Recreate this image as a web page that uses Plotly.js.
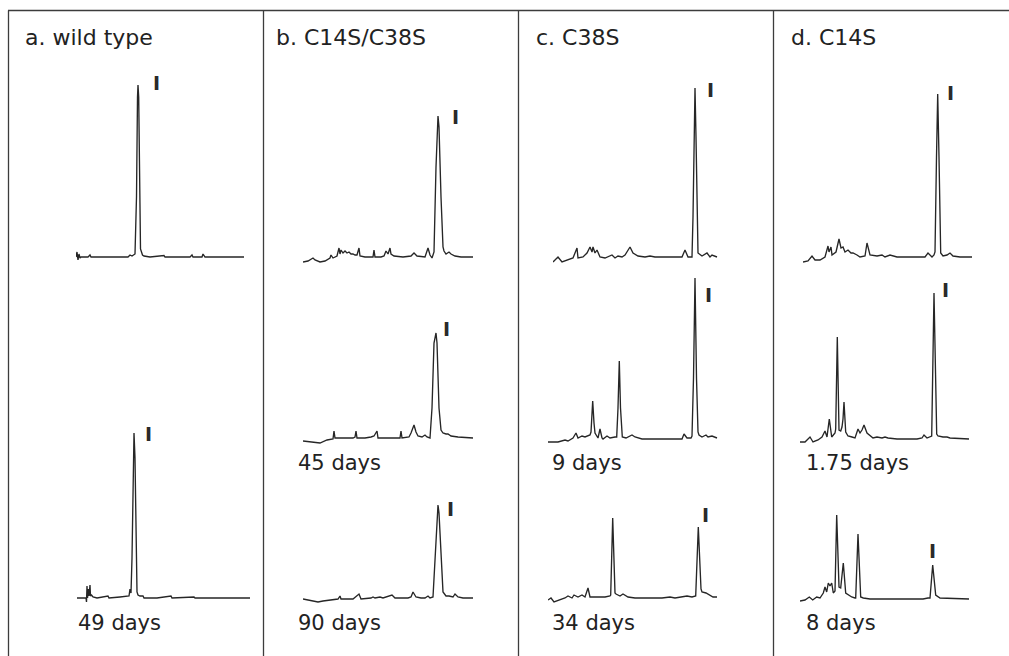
<!DOCTYPE html>
<html>
<head>
<meta charset="utf-8">
<script src="https://cdn.plot.ly/plotly-3.0.1.min.js"></script>
<style>html,body{margin:0;padding:0;background:#fff}</style>
</head>
<body>
<div id="chart" style="width:1009px;height:656px"></div>
<script>
// ---- Panel titles and sample labels ----
const panelTitles = ["a. wild type", "b. C14S/C38S", "c. C38S", "d. C14S"];
const sampleLabels = ["49 days", "45 days", "90 days", "9 days", "34 days", "1.75 days", "8 days"];
const peakName = "I";

// ---- Chromatogram traces: retention (arbitrary units) and signal (arbitrary units) ----
// a. wild type, top
const a1_t = [0,1,2,3,4,5,12,14,15,52,54,56,59,60.5,61.5,62,62.7,63.5,64.5,65.5,66.5,68,74,88,89,114,116,117,126,127,129,168];
const a1_y = [0,5,-3,3,-1,0,0,2,0,0,2,1,3,60,160,172,160,60,8,5,2,1,0,1.5,0,0,2,0,0,3,0,0];
// a. wild type, 49 days
const a2_t = [0,5,9,9.5,10,10.5,11.5,12,13,13.5,14.5,16,20,31,32,43,52,53,54,55,56,57,58,59,60,61,63,66,67,80,94,95,117,118,173];
const a2_y = [0,0,0,-4,12,0,9,2,13,2,3,1,0,2,0,1,2,9,5,40,140,165,140,40,6,3,2,2,0,0,2,0,1,0,0];
// b. C14S/C38S, top
const b1_t = [0,5,10,12,17,22,27,28,30,34,36,37,38,40,42,44,46,48,50,52,54,56,57,62,70,71,72,78,81,83,85,87,88,91,100,108,111,114,122,125,127,129,131,133,135,136,138,140,141,143,146,148,152,158,170];
const b1_y = [-5,-4,-1,-3,-5,-4,-1,2,-1,1,9,3,7,4,6,4,5,3,3,2,2,9,1,0,0,7,0,0,1,6,3,9,3,1,0,1,4,1,0,9,2,-1,5,90,141,130,60,10,6,3,5,3,1,0,0];
// b. C14S/C38S, 45 days
const b2_t = [0,8,17,24,28,30,31,32,40,50,52,53,54,62,68,71,74,75,85,97,98,99,106,108,111,113,115,119,122,124,127,129,131,133,134,136,138,140,143,145,148,155,170];
const b2_y = [-3,-4,-5,-2,-1,-1,7,0,0,0,1,7,0,0,1,2,7,0,0,0,7,0,1,5,13,6,2,1,3,1,0,30,95,105,95,30,8,5,4,4,2,1,0];
// b. C14S/C38S, 90 days
const b3_t = [0,5,10,15,20,30,35,37,38,50,56,58,68,70,72,77,80,89,92,105,108,110,113,118,122,125,127,130,132,134,135,136,138,140,143,146,150,152,155,160,170];
const b3_y = [-1,-2,-3,-4,-3,-2,-1,2,-1,-1,4,-1,0,1,0,1,0,3,0,0,1,6,1,0,0,2,0,1,40,85,93,85,40,6,2,2,1,4,1,0,0];
// c. C38S, top
const c1_t = [0,5,9,14,20,24,25,30,34,37,39,40,42,44,47,52,59,62,65,69,72,77,80,85,92,97,102,129,132,135,139,140,141,142,143,144,145,149,154,157,159,164];
const c1_y = [-5,0,-5,-3,-1,9,-1,0,4,10,5,10,4,7,0,-1,2,-1,1,0,2,10,4,1,0,1,0,0,7,0,0,40,130,169,120,30,4,1,4,0,2,0];
// c. C38S, 9 days
const c2_t = [0,10,17,20,25,28,30,34,37,40,42,43,44.7,46,47,50,52,54,55,59,62,67,68.7,70,71.3,72.5,74.3,78,84,87,94,107,134,136,139,143,144,145.5,147,148.5,150,151,154,158,160,164,169];
const c2_y = [-4,-4,-2,-3,0,5,0,2,1,2,3,6,37,15,5,0,9,0,-1,2,0,1,1,30,77,30,1,0,3,1,-1,-1,-1,4,0,0,2,60,160,60,6,3,1,3,1,2,0];
// c. C38S, 34 days
const c3_t = [0,3,6,12,17,20,24,26,30,34,37,40,42,45,50,57,62,62.7,64.7,67,68,72,75,80,87,100,114,122,127,139,144,147.7,150.3,153,154,158,162,165,169];
const c3_y = [-3,-1,-5,-3,-1,1,-1,2,0,2,0,9,0,0,0,0,1,2,79,4,3,1,3,0,-1,-1,-1,0,-1,1,0,1,70,8,5,4,2,0,0];
// d. C14S, top
const d1_t = [0,5,9,12,17,22,25,26,28,29,33,36,38,40,42,45,48,50,54,57,62,64,67,74,79,82,87,90,94,107,122,125,129,131,132,133.5,134.7,136,137.7,140,144,147,150,157,169];
const d1_y = [-5,-4,1,-3,-3,0,11,5,10,2,5,18,9,10,5,7,4,4,2,0,1,14,2,1,2,0,2,1,0,0,0,4,0,2,5,100,163,100,4,1,2,4,1,0,0];
// d. C14S, 1.75 days
const d2_t = [0,5,10,13,18,22,25,27,29.3,31.7,35,35.7,37.3,39,40.7,42,43,44,45.7,48,52,55,58,60,62,64,67,70,73,77,82,85,88,97,117,122,124,127,130,131.7,134,136.7,138,143,147,150,169];
const d2_y = [-3,-3,2,-3,-1,2,8,2,20,2,6,10,102,9,8,12,20,37,7,3,2,1,10,6,9,14,6,3,1,2,1,2,1,0,0,1,4,1,2,3,146,5,3,2,2,1,0];
// d. C14S, 8 days
const d3_t = [0,5,9.3,12.7,16.7,20,23.3,25,26.7,28.3,30,31.7,33.3,35,36.7,38.3,39,40.7,43.3,45.7,48.3,51.7,55,55.7,58,60,60.7,63.3,70,103,123,128,130,132.7,135,135.7,140,169];
const d3_y = [-2,-1,2,-1,2,1,6,12,7,16,13,16,6,8,84,14,12,11,36,6,4,2,1,1,65,4,2,1,0,0,0,1,1,34,5,4,1,0];

// Peak "I" label positions (data units of each trace)
const peakLabelT = [80, 71.5, 152, 143, 147, 157, 160, 157.7, 147, 145, 132.3];
const peakLabelY = [174, 164, 140.5, 109, 89, 167, 143, 82.5, 164.5, 149.5, 48.5];

const series = [
  {t:a1_t, y:a1_y}, {t:a2_t, y:a2_y},
  {t:b1_t, y:b1_y}, {t:b2_t, y:b2_y}, {t:b3_t, y:b3_y},
  {t:c1_t, y:c1_y}, {t:c2_t, y:c2_y}, {t:c3_t, y:c3_y},
  {t:d1_t, y:d1_y}, {t:d2_t, y:d2_y}, {t:d3_t, y:d3_y}
];

// ---- Layout geometry (pixels): trace origin x, baseline y ----
const W = 1009, H = 656;
const geom = [[76,257],[77,598],[303,257],[303,438],[303,598],[553,257],[548,438],[548,597],[803,257],[800,439],[800,599]];
const titlePos = [[23,37.5],[274,37.5],[534,37.5],[789,37.5]];
const samplePos = [[76,622.5],[296,462.5],[296,622.5],[550,462.5],[550,622.5],[804,462.5],[804,622.5]];
const dividers = [8.5, 263.5, 518.5, 773.5];

const FONT = "DejaVu Sans, Liberation Sans, Arial, sans-serif";
const data = [];
const layout = {
  width: W, height: H,
  margin: {l:0, r:0, t:0, b:0},
  paper_bgcolor: '#ffffff', plot_bgcolor: 'rgba(0,0,0,0)',
  showlegend: false,
  shapes: [], annotations: []
};

series.forEach((s, i) => {
  const n = i + 1;
  const sfx = n === 1 ? '' : String(n);
  const [sx, by] = geom[i];
  layout['xaxis' + sfx] = {domain:[sx/W, (sx+180)/W], range:[0,180], visible:false, fixedrange:true, anchor:'y'+sfx};
  layout['yaxis' + sfx] = {domain:[(H-by-10)/H, (H-by+180)/H], range:[-10,180], visible:false, fixedrange:true, anchor:'x'+sfx};
  data.push({
    x: s.t, y: s.y, xaxis: 'x' + sfx, yaxis: 'y' + sfx,
    type: 'scatter', mode: 'lines',
    line: {color:'#262626', width:1.35},
    hoverinfo: 'skip', cliponaxis: false
  });
  layout.annotations.push({
    xref: 'x' + sfx, yref: 'y' + sfx, x: peakLabelT[i], y: peakLabelY[i],
    text: peakName, showarrow: false, xanchor: 'center', yanchor: 'middle',
    font: {family: FONT, size: 19, color: '#2a2a2a', weight: 'bold'}
  });
});

panelTitles.forEach((t, i) => {
  layout.annotations.push({
    xref:'paper', yref:'paper', x: titlePos[i][0]/W, y: 1 - titlePos[i][1]/H,
    text: t, showarrow:false, xanchor:'left', yanchor:'middle',
    font:{family:FONT, size:22, color:'#222222'}
  });
});
sampleLabels.forEach((t, i) => {
  layout.annotations.push({
    xref:'paper', yref:'paper', x: samplePos[i][0]/W, y: 1 - samplePos[i][1]/H,
    text: t, showarrow:false, xanchor:'left', yanchor:'middle',
    font:{family:FONT, size:21, color:'#222222'}
  });
});

// frame lines
layout.shapes.push({type:'line', xref:'paper', yref:'paper', x0:8/W, x1:1, y0:1-10.5/H, y1:1-10.5/H, line:{color:'#3c3c3c', width:1.3}});
dividers.forEach(x => {
  layout.shapes.push({type:'line', xref:'paper', yref:'paper', x0:x/W, x1:x/W, y0:1-10.5/H, y1:0, line:{color:'#3c3c3c', width:1.3}});
});

Plotly.newPlot('chart', data, layout, {staticPlot:true, displayModeBar:false});
</script>
</body>
</html>
